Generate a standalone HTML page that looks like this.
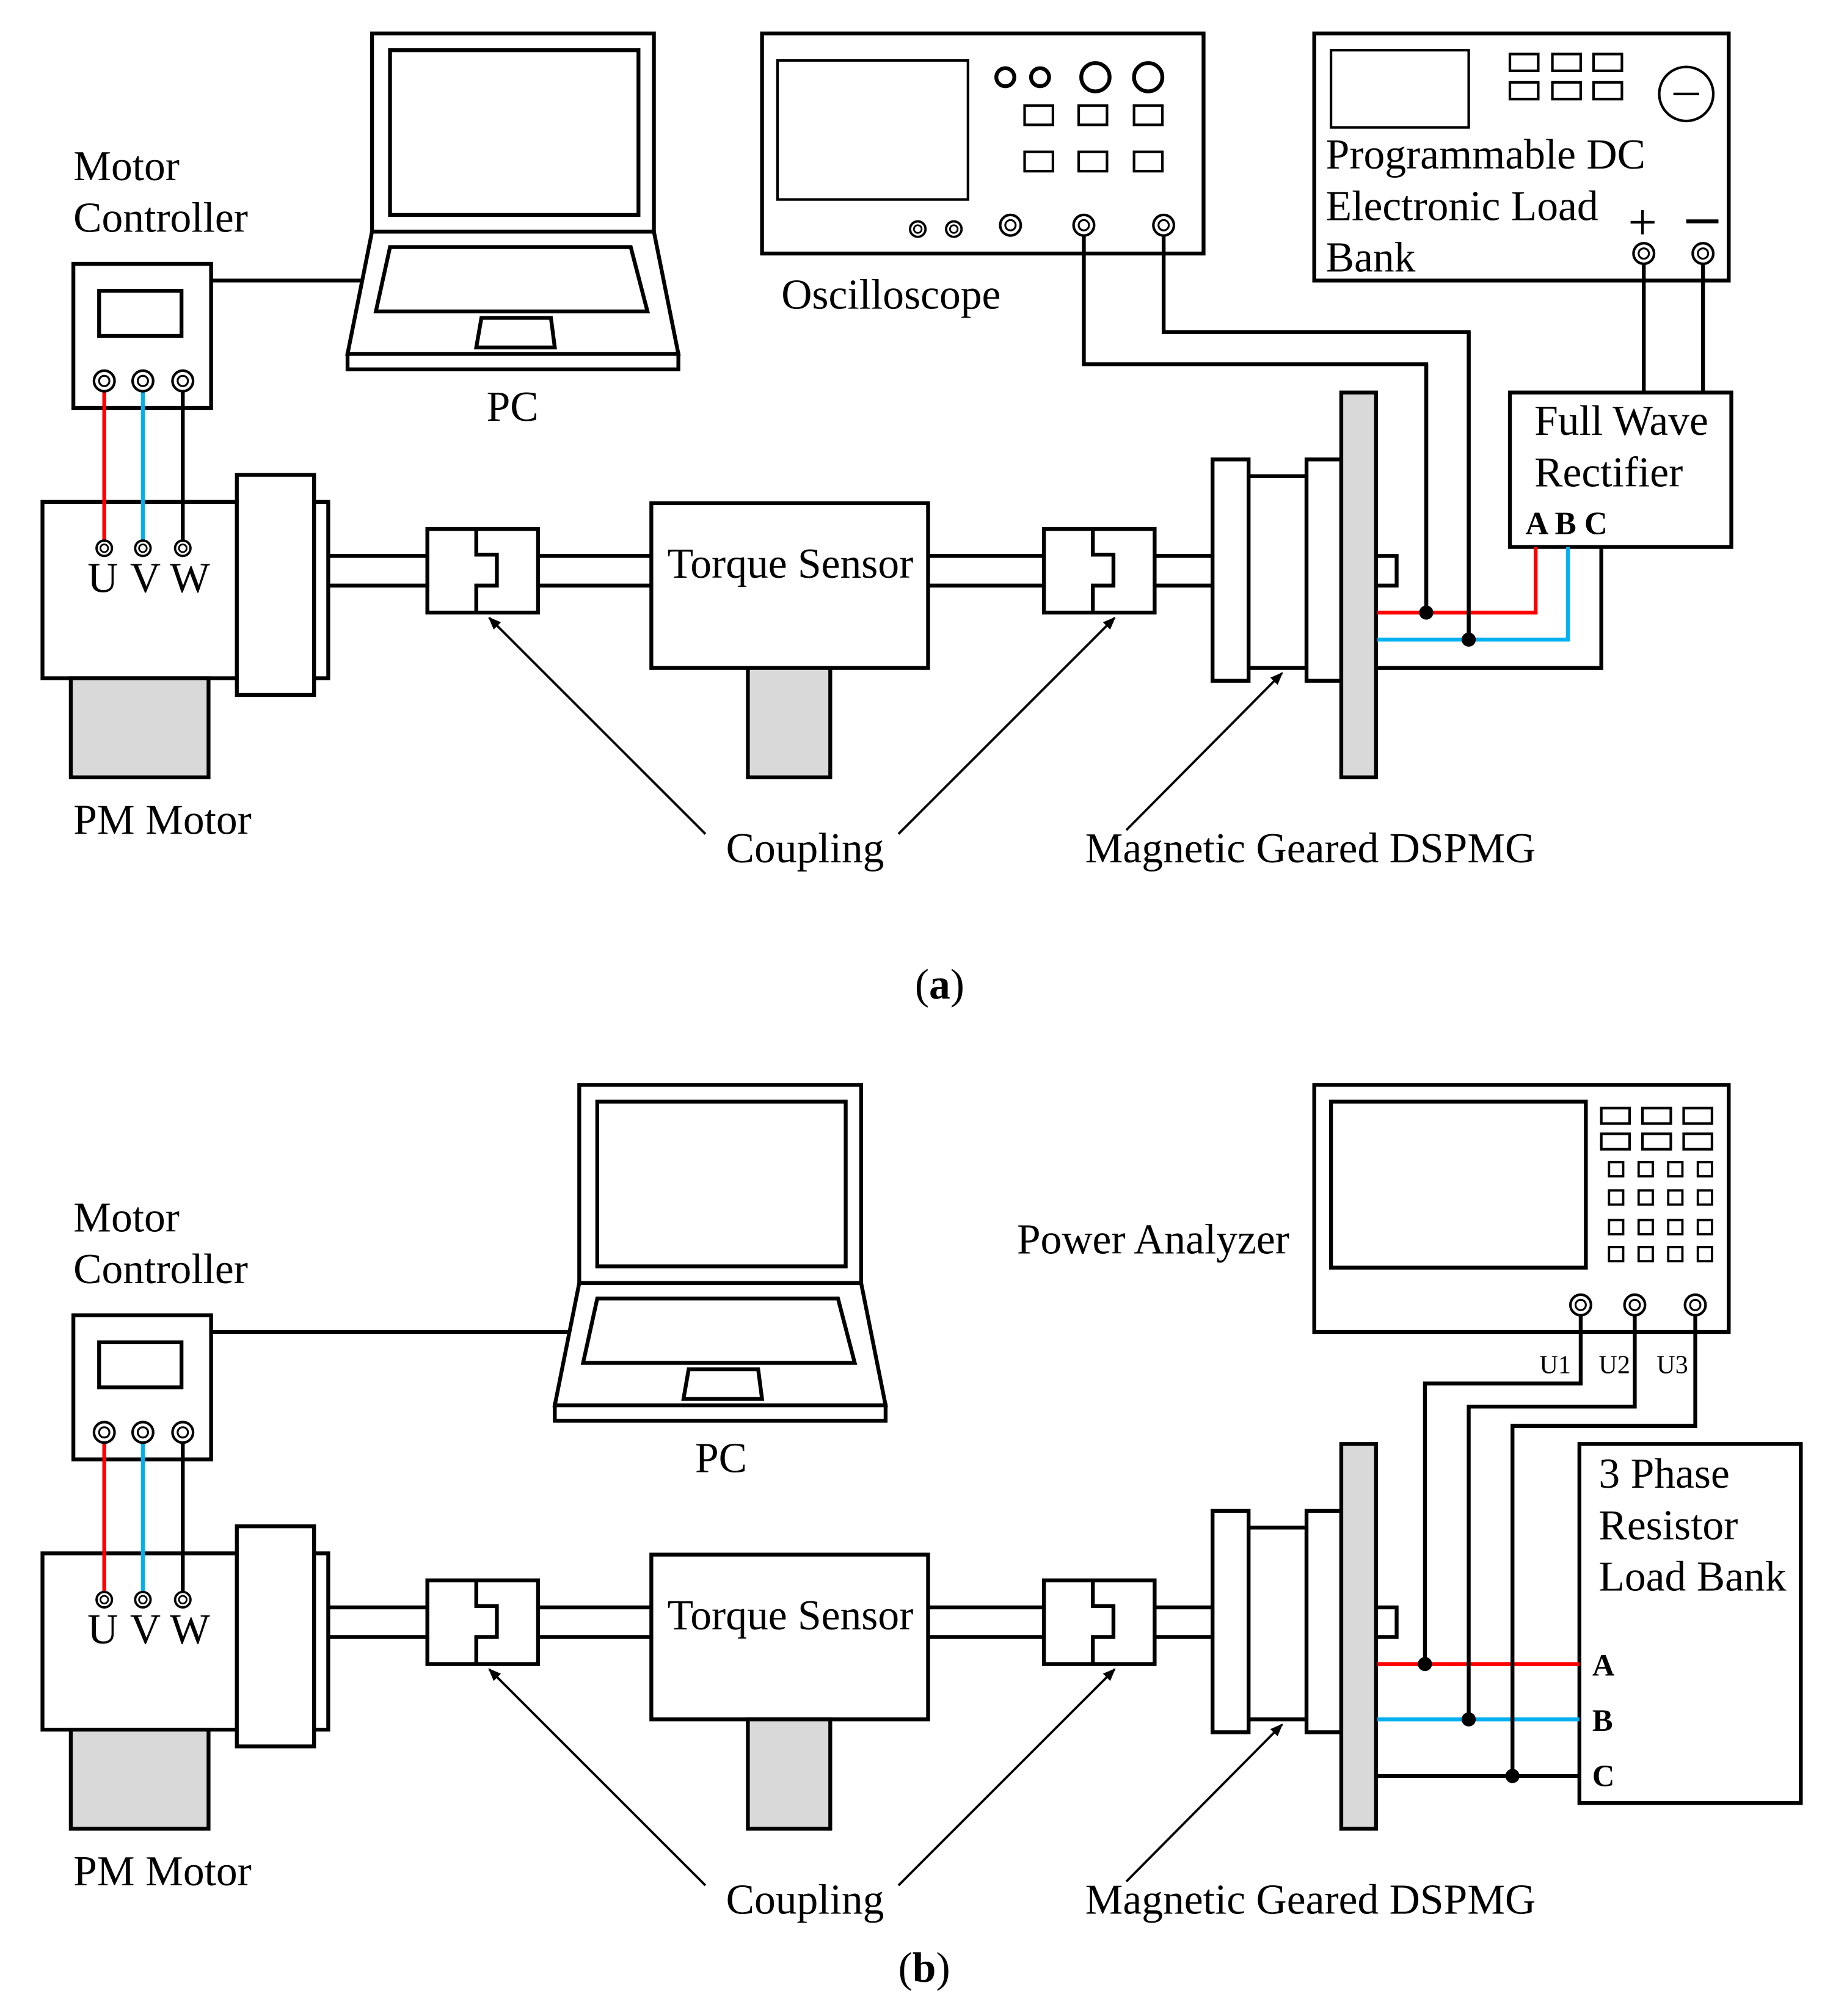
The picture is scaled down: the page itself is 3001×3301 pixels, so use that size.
<!DOCTYPE html>
<html><head><meta charset="utf-8"><style>
html,body{margin:0;padding:0;background:#fff;}
svg{display:block;}
text{font-family:"Liberation Serif",serif;font-size:33px;fill:#000;}
</style></head><body>
<svg width="3001" height="3301" viewBox="0 0 1424 1566.5" preserveAspectRatio="none" xmlns="http://www.w3.org/2000/svg">
<defs>
<marker id="ar" markerWidth="10" markerHeight="10" refX="9" refY="5" orient="auto" markerUnits="userSpaceOnUse"><path d="M0,1 L10,5 L0,9 Z" fill="#000"/></marker>
<g id="term"><circle r="8" fill="#fff" stroke="#000" stroke-width="2"/><circle r="4" fill="none" stroke="#000" stroke-width="1.5"/></g>
<g id="sterm"><circle r="6" fill="#fff" stroke="#000" stroke-width="1.8"/><circle r="3" fill="none" stroke="#000" stroke-width="1.3"/></g>
<g id="coup" fill="#fff" stroke="#000" stroke-width="3">
<rect x="0" y="0" width="86" height="65"/>
<path d="M38,0 V20 H54 V44 H38 V65" fill="none"/>
</g>
<g id="ctrl" stroke="#000" stroke-width="3" fill="#fff">
<text x="57" y="140" stroke="none">Motor</text>
<text x="57" y="180" stroke="none">Controller</text>
<rect x="57" y="205" width="107" height="112"/>
<rect x="77" y="226" width="64" height="35"/>
</g>
<g id="train" stroke="#000" stroke-width="3" fill="#fff">
<rect x="33" y="390" width="151" height="137"/>
<rect x="55" y="527" width="107" height="77" fill="#d9d9d9"/>
<rect x="184" y="369" width="60" height="171"/>
<rect x="244" y="390" width="11" height="137"/>
<line x1="81" y1="304" x2="81" y2="426" stroke="#ff0000"/>
<line x1="111" y1="304" x2="111" y2="426" stroke="#00b0f0"/>
<line x1="142" y1="304" x2="142" y2="426"/>
<use href="#term" x="81" y="296"/><use href="#term" x="111" y="296"/><use href="#term" x="142" y="296"/>
<use href="#sterm" x="81" y="426"/><use href="#sterm" x="111" y="426"/><use href="#sterm" x="142" y="426"/>
<text x="68" y="460" stroke="none">U</text><text x="101" y="460" stroke="none">V</text><text x="132" y="460" stroke="none">W</text>
<path d="M255,432 H332 M255,455 H332 M418,432 H506 M418,455 H506 M721,432 H811 M721,455 H811 M890,432 H942 M890,455 H942" fill="none"/>
<use href="#coup" x="332" y="411"/>
<use href="#coup" x="811" y="411"/>
<rect x="506" y="391" width="215" height="128"/>
<rect x="581" y="519" width="64" height="85" fill="#d9d9d9"/>
<text x="614" y="449" text-anchor="middle" stroke="none">Torque Sensor</text>
<rect x="942" y="357" width="28" height="172"/>
<rect x="970" y="370" width="45" height="149"/>
<rect x="1015" y="357" width="27" height="172"/>
<rect x="1069" y="432" width="16" height="23"/>
<rect x="1042" y="305" width="27" height="299" fill="#d9d9d9"/>
<line x1="548" y1="648" x2="380" y2="480" stroke-width="1.8" marker-end="url(#ar)"/>
<line x1="698" y1="648" x2="866" y2="480" stroke-width="1.8" marker-end="url(#ar)"/>
<line x1="875" y1="645" x2="996" y2="523" stroke-width="1.8" marker-end="url(#ar)"/>
<text x="57" y="648" stroke="none">PM Motor</text>
<text x="564" y="670" stroke="none">Coupling</text>
<text x="843" y="670" stroke="none">Magnetic Geared DSPMG</text>
</g>
<g id="laptop" stroke="#000" stroke-width="3" fill="#fff">
<rect x="289" y="26" width="219" height="154"/>
<rect x="303" y="39" width="193" height="128"/>
<path d="M289,180 L270,275 H527 L508,180 Z"/>
<rect x="270" y="275" width="257" height="12"/>
<path d="M303,192 H490 L503,242 H292 Z"/>
<path d="M374,247 H428 L431,270 H370 Z"/>
</g>
</defs>

<use href="#ctrl"/>
<line x1="164" y1="218" x2="283" y2="218" stroke="#000" stroke-width="3"/>
<use href="#laptop"/>
<text x="378" y="327">PC</text>
<use href="#train"/>

<g stroke="#000" stroke-width="3" fill="#fff">
<rect x="592" y="26" width="343" height="171"/>
<rect x="604" y="47" width="148" height="108" stroke-width="2"/>
<circle cx="781" cy="60" r="7"/><circle cx="808" cy="60" r="7"/>
<circle cx="851" cy="60" r="11"/><circle cx="892" cy="60" r="11"/>
<rect x="796" y="82" width="22" height="15" stroke-width="2"/><rect x="838" y="82" width="22" height="15" stroke-width="2"/><rect x="881" y="82" width="22" height="15" stroke-width="2"/>
<rect x="796" y="118" width="22" height="15" stroke-width="2"/><rect x="838" y="118" width="22" height="15" stroke-width="2"/><rect x="881" y="118" width="22" height="15" stroke-width="2"/>
<path d="M842,175 V283 H1108 V476" fill="none"/>
<path d="M904,175 V258 H1141 V497" fill="none"/>
</g>
<use href="#sterm" x="713" y="178"/><use href="#sterm" x="741" y="178"/>
<use href="#term" x="785" y="175"/><use href="#term" x="842" y="175"/><use href="#term" x="904" y="175"/>
<text x="607" y="240">Oscilloscope</text>

<g stroke="#000" stroke-width="3" fill="#fff">
<rect x="1021" y="26" width="322" height="192"/>
<rect x="1034" y="39" width="107" height="60" stroke-width="2"/>
<rect x="1173" y="42" width="22" height="13" stroke-width="2"/><rect x="1206" y="42" width="22" height="13" stroke-width="2"/><rect x="1238" y="42" width="22" height="13" stroke-width="2"/>
<rect x="1173" y="64" width="22" height="13" stroke-width="2"/><rect x="1206" y="64" width="22" height="13" stroke-width="2"/><rect x="1238" y="64" width="22" height="13" stroke-width="2"/>
<circle cx="1310" cy="73" r="21" stroke-width="2"/>
<line x1="1300" y1="73" x2="1320" y2="73" stroke-width="2"/>
<path d="M1277,197 V305 M1323,197 V305" fill="none"/>
<rect x="1173" y="305" width="172" height="120"/>
<path d="M1193,425 V476 H1070" fill="none" stroke="#ff0000"/>
<path d="M1218,425 V497 H1070" fill="none" stroke="#00b0f0"/>
<path d="M1244,425 V519 H1070" fill="none"/>
<path d="M1108,283 V476 M1141,258 V497" fill="none"/>
</g>
<circle cx="1108" cy="476" r="5.5"/><circle cx="1141" cy="497" r="5.5"/>
<use href="#term" x="1277" y="197"/><use href="#term" x="1323" y="197"/>
<text x="1030" y="131">Programmable DC</text>
<text x="1030" y="171">Electronic Load</text>
<text x="1030" y="211">Bank</text>
<text x="1276" y="186" text-anchor="middle" style="font-size:40px">+</text>
<line x1="1310" y1="172" x2="1335" y2="172" stroke="#000" stroke-width="3"/>
<text x="1192" y="338">Full Wave</text>
<text x="1192" y="378">Rectifier</text>
<text x="1185" y="415" style="font-weight:bold;font-size:25px">A B C</text>
<text x="730" y="776" text-anchor="middle">(<tspan font-weight="bold">a</tspan>)</text>

<g transform="translate(0,817)">
<use href="#ctrl"/>
<use href="#train"/>
</g>
<line x1="164" y1="1035" x2="443" y2="1035" stroke="#000" stroke-width="3"/>
<g transform="translate(161,817)"><use href="#laptop"/></g>
<text x="540" y="1144">PC</text>

<g stroke="#000" stroke-width="3" fill="#fff">
<rect x="1021" y="843" width="322" height="192"/>
<rect x="1034" y="856" width="198" height="129"/>
<rect x="1244" y="861" width="22" height="12" stroke-width="2"/><rect x="1276" y="861" width="22" height="12" stroke-width="2"/><rect x="1308" y="861" width="22" height="12" stroke-width="2"/>
<rect x="1244" y="881" width="22" height="12" stroke-width="2"/><rect x="1276" y="881" width="22" height="12" stroke-width="2"/><rect x="1308" y="881" width="22" height="12" stroke-width="2"/>
<g stroke-width="1.8">
<rect x="1250" y="903" width="11" height="11"/><rect x="1273" y="903" width="11" height="11"/><rect x="1296" y="903" width="11" height="11"/><rect x="1319" y="903" width="11" height="11"/>
<rect x="1250" y="925" width="11" height="11"/><rect x="1273" y="925" width="11" height="11"/><rect x="1296" y="925" width="11" height="11"/><rect x="1319" y="925" width="11" height="11"/>
<rect x="1250" y="948" width="11" height="11"/><rect x="1273" y="948" width="11" height="11"/><rect x="1296" y="948" width="11" height="11"/><rect x="1319" y="948" width="11" height="11"/>
<rect x="1250" y="969" width="11" height="11"/><rect x="1273" y="969" width="11" height="11"/><rect x="1296" y="969" width="11" height="11"/><rect x="1319" y="969" width="11" height="11"/>
</g>
<rect x="1227" y="1122" width="172" height="279"/>
<line x1="1070" y1="1293" x2="1227" y2="1293" stroke="#ff0000"/>
<line x1="1070" y1="1336" x2="1227" y2="1336" stroke="#00b0f0"/>
<line x1="1070" y1="1380" x2="1227" y2="1380"/>
<path d="M1228,1014 V1075 H1107 V1293" fill="none"/>
<path d="M1270,1014 V1093 H1141 V1336" fill="none"/>
<path d="M1317,1014 V1108 H1175 V1380" fill="none"/>
</g>
<circle cx="1107" cy="1293" r="5.5"/><circle cx="1141" cy="1336" r="5.5"/><circle cx="1175" cy="1380" r="5.5"/>
<use href="#term" x="1228" y="1014"/><use href="#term" x="1270" y="1014"/><use href="#term" x="1317" y="1014"/>
<text x="1196" y="1067" style="font-size:20px">U1</text>
<text x="1242" y="1067" style="font-size:20px">U2</text>
<text x="1287" y="1067" style="font-size:20px">U3</text>
<text x="790" y="974">Power Analyzer</text>
<text x="1242" y="1156">3 Phase</text>
<text x="1242" y="1196">Resistor</text>
<text x="1242" y="1236">Load Bank</text>
<text x="1237" y="1302" style="font-weight:bold;font-size:24px">A</text>
<text x="1237" y="1345" style="font-weight:bold;font-size:24px">B</text>
<text x="1237" y="1388" style="font-weight:bold;font-size:24px">C</text>
<text x="718" y="1540" text-anchor="middle">(<tspan font-weight="bold">b</tspan>)</text>
</svg>
</body></html>
